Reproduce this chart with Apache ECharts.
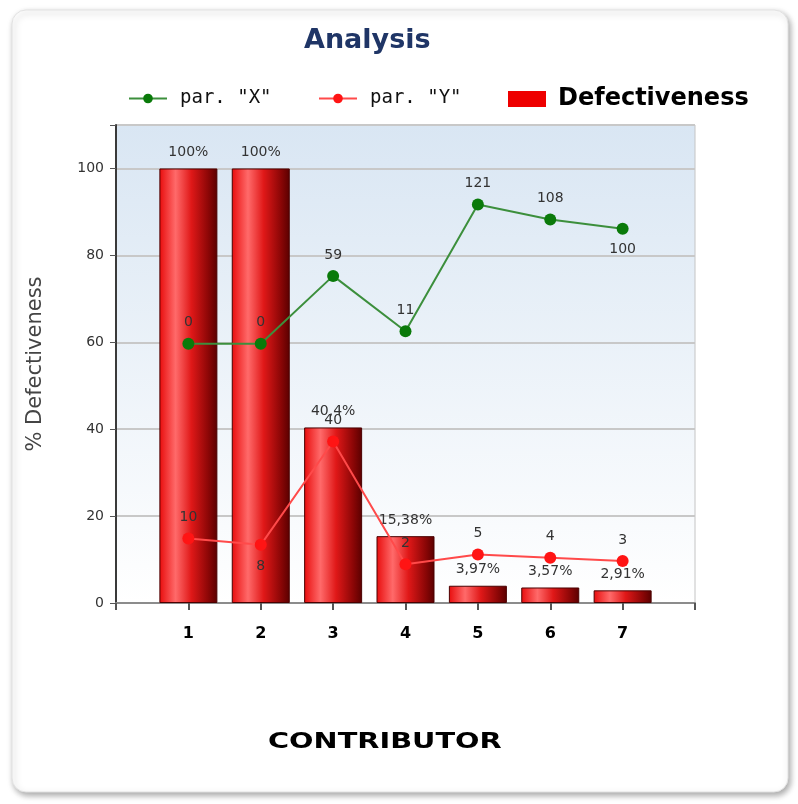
<!DOCTYPE html>
<html>
<head>
<meta charset="utf-8">
<script src="https://cdn.jsdelivr.net/npm/echarts@6/dist/echarts.min.js"></script>
<style>
  html, body { margin: 0; padding: 0; background: #ffffff; }
  #chart { width: 798px; height: 804px; }
</style>
</head>
<body>
<div id="chart"></div>
<script>
// Contributor positions along the x axis
const contributors = [1, 2, 3, 4, 5, 6, 7];
// % defectiveness per contributor (bars)
const defectiveness = [100, 100, 40.4, 15.38, 3.97, 3.57, 2.91];
// Parameter "X" counts (green line, own hidden scale)
const parX = [0, 0, 59, 11, 121, 108, 100];
// Parameter "Y" counts (red line, own hidden scale)
const parY = [10, 8, 40, 2, 5, 4, 3];
// Left axis tick labels
const yTicks = [0, 20, 40, 60, 80, 100];

const chart = echarts.init(document.getElementById('chart'), null, { renderer: 'canvas' });

const barGradient = new echarts.graphic.LinearGradient(0, 0, 1, 0, [
  { offset: 0, color: '#e80c0c' },
  { offset: 0.28, color: '#ff6a6a' },
  { offset: 0.55, color: '#e01818' },
  { offset: 0.85, color: '#8a0606' },
  { offset: 1, color: '#5a0000' }
]);

const pair = (vals) => contributors.map((c, i) => [c, vals[i]]);

const option = {
  backgroundColor: 'transparent',
  animation: false,
  graphic: [
    {
      type: 'rect',
      z: -10,
      shape: { x: 12, y: 10, width: 776, height: 782, r: 14 },
      style: {
        fill: '#ffffff',
        stroke: '#e2e2e2',
        lineWidth: 1,
        shadowBlur: 6,
        shadowOffsetX: 2,
        shadowOffsetY: 3,
        shadowColor: 'rgba(0,0,0,0.35)'
      }
    },
    {
      // x axis title, stretched wide like a spaced-out caption
      type: 'text',
      x: 268,
      y: 732,
      scaleX: 1.37,
      style: {
        text: 'CONTRIBUTOR',
        font: 'bold 21px "DejaVu Sans"',
        fill: '#000000'
      }
    }
  ],
  title: {
    text: 'Analysis',
    left: 304,
    top: 27,
    padding: 0,
    textStyle: {
      fontFamily: 'DejaVu Sans',
      fontWeight: 'bold',
      fontSize: 27,
      color: '#1f3566'
    }
  },
  legend: [
    {
      data: ['par. "X"'],
      left: 128,
      top: 89,
      padding: 0,
      itemWidth: 38,
      itemHeight: 12,
      textStyle: { fontFamily: 'DejaVu Sans Mono', fontSize: 19, color: '#111', padding: [0, 0, 0, 8] }
    },
    {
      data: ['par. "Y"'],
      left: 318,
      top: 89,
      padding: 0,
      itemWidth: 38,
      itemHeight: 12,
      textStyle: { fontFamily: 'DejaVu Sans Mono', fontSize: 19, color: '#111', padding: [0, 0, 0, 8] }
    },
    {
      data: [{ name: 'Defectiveness', icon: 'rect', itemStyle: { color: '#ee0000', borderWidth: 0 } }],
      left: 508,
      top: 87,
      padding: 0,
      itemWidth: 38,
      itemHeight: 16,
      textStyle: { fontFamily: 'DejaVu Sans', fontWeight: 'bold', fontSize: 24, color: '#000', padding: [0, 0, 0, 7] }
    }
  ],
  grid: {
    left: 116,
    right: 103,
    top: 125,
    bottom: 201,
    show: true,
    borderColor: '#c4c4c4',
    borderWidth: 1,
    backgroundColor: new echarts.graphic.LinearGradient(0, 0, 0, 1, [
      { offset: 0, color: '#d9e6f3' },
      { offset: 1, color: '#ffffff' }
    ])
  },
  xAxis: {
    type: 'value',
    min: 0,
    max: 8,
    interval: 1,
    axisLine: { show: true, lineStyle: { color: '#8c8c8c', width: 2 } },
    axisTick: { show: true, length: 7, lineStyle: { color: '#555', width: 2 } },
    splitLine: { show: false },
    axisLabel: {
      margin: 23,
      fontFamily: 'DejaVu Sans',
      fontWeight: 'bold',
      fontSize: 16,
      color: '#000',
      formatter: (v) => (contributors.indexOf(v) >= 0 ? String(v) : '')
    }
  },
  yAxis: [
    {
      type: 'value',
      min: 0,
      max: 110,
      interval: 20,
      name: '% Defectiveness',
      nameLocation: 'middle',
      nameGap: 70,
      nameTextStyle: { fontFamily: 'DejaVu Sans', fontSize: 21, color: '#444' },
      axisLine: { show: true, lineStyle: { color: '#3a3a3a', width: 2 } },
      axisTick: { show: true, length: 6, lineStyle: { color: '#555' } },
      splitLine: { show: true, lineStyle: { color: '#c8c8c8', width: 2 } },
      axisLabel: {
        margin: 12,
        fontFamily: 'DejaVu Sans',
        fontSize: 14,
        color: '#333',
        formatter: (v) => (yTicks.indexOf(v) >= 0 ? String(v) : '')
      }
    },
    { type: 'value', show: false, min: -225, max: 190 },
    { type: 'value', show: false, min: -10, max: 138 }
  ],
  series: [
    {
      name: 'Defectiveness',
      type: 'bar',
      yAxisIndex: 0,
      barWidth: 58,
      data: pair(defectiveness),
      itemStyle: { color: barGradient, borderColor: '#4a0000', borderWidth: 1 },
      label: {
        show: true,
        position: 'top',
        distance: 9,
        fontFamily: 'DejaVu Sans',
        fontSize: 14,
        color: '#333',
        formatter: (p) => String(p.value[1]).replace('.', ',') + '%'
      },
      z: 2
    },
    {
      name: 'par. "X"',
      type: 'line',
      yAxisIndex: 1,
      data: pair(parX).map((d, i) => i === 6
        ? { value: d, label: { position: 'bottom' } }
        : d),
      symbol: 'circle',
      symbolSize: 12,
      lineStyle: { color: '#3c8f3c', width: 2 },
      itemStyle: { color: '#0a7a0a' },
      label: {
        show: true,
        position: 'top',
        distance: 8,
        fontFamily: 'DejaVu Sans',
        fontSize: 14,
        color: '#333',
        formatter: (p) => String(p.value[1])
      },
      z: 4
    },
    {
      name: 'par. "Y"',
      type: 'line',
      yAxisIndex: 2,
      data: pair(parY).map((d, i) => i === 1
        ? { value: d, label: { position: 'bottom' } }
        : d),
      symbol: 'circle',
      symbolSize: 12,
      lineStyle: { color: '#ff4a4a', width: 2 },
      itemStyle: { color: '#ff1414' },
      label: {
        show: true,
        position: 'top',
        distance: 8,
        fontFamily: 'DejaVu Sans',
        fontSize: 14,
        color: '#333',
        formatter: (p) => String(p.value[1])
      },
      z: 4
    }
  ]
};

chart.setOption(option);
</script>
</body>
</html>
